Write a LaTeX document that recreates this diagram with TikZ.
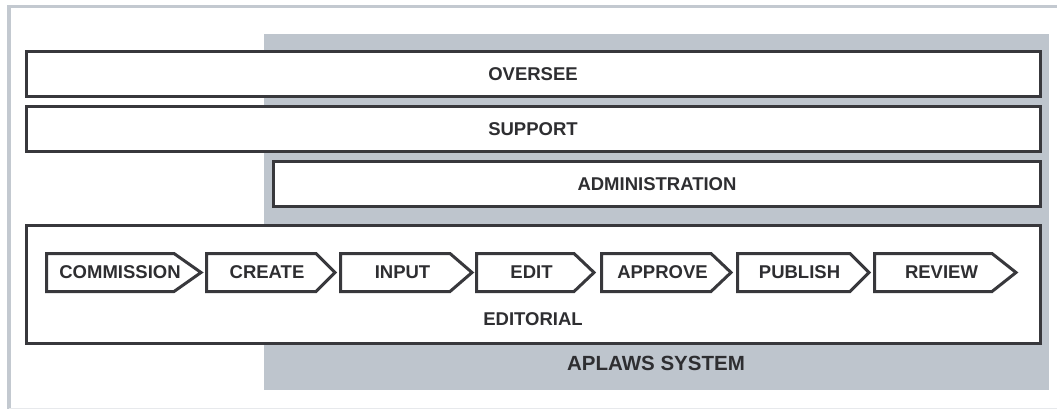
\documentclass[tikz,border=0pt]{standalone}
\usepackage{fontspec}
\setmainfont{Liberation Sans}
\definecolor{panel}{HTML}{BEC5CD}
\definecolor{frame}{HTML}{C3C9D0}
\definecolor{ink}{HTML}{38383C}
\definecolor{txt}{HTML}{2E2E31}
\tikzset{
  lbl/.style={font=\fontsize{18.5}{20}\selectfont\bfseries, text=txt, inner sep=0pt},
  bigl/.style={font=\fontsize{20.5}{22}\selectfont\bfseries, text=txt, inner sep=0pt},
  layer/.style={draw=ink, line width=3.4pt, fill=white},
  chev/.style={draw=ink, line width=3pt, fill=white, line join=miter}
}
\begin{document}
\begin{tikzpicture}[x=1pt,y=-1pt]
\useasboundingbox (0,0) rectangle (1057,409);
% outer frame
\draw[frame, line width=3.5pt] (9,409) -- (9,6.5) -- (1057,6.5);
\draw[frame!40, line width=1pt] (9,408) -- (1057,408);
% system panel
\fill[panel] (264,34) rectangle (1049,390);
\node[bigl] (sys) at (656,363) {APLAWS SYSTEM};
% layers
\draw[layer] (26.7,51.7) rectangle (1040.3,96.3);
\node[lbl] (oversee) at (533,74) {OVERSEE};
\draw[layer] (26.7,106.7) rectangle (1040.3,151.3);
\node[lbl] (support) at (533,129) {SUPPORT};
\draw[layer] (273.7,161.7) rectangle (1040.3,206.3);
\node[lbl] (admin) at (657,184) {ADMINISTRATION};
\draw[layer] (26.7,225.7) rectangle (1040.3,343.3);
\node[lbl] (editorial) at (533,319) {EDITORIAL};
% chevrons
\foreach \l/\n/\t/\name/\txt in {
  45/174/203/commission/COMMISSION,
  205/316/337/create/CREATE,
  339/450/474/input/INPUT,
  475/574/596/edit/EDIT,
  600/711/733/approve/APPROVE,
  736/850/871/publish/PUBLISH,
  873/992/1018/review/REVIEW}{
  \draw[chev] (\l+1.5,253.5) -- (\n,253.5) -- (\t-2,272.5) -- (\n,291.5) -- (\l+1.5,291.5) -- cycle;
  \node[lbl] (\name) at ({(\l+\t)/2-4},272.5) {\txt};
}
\end{tikzpicture}
\end{document}
